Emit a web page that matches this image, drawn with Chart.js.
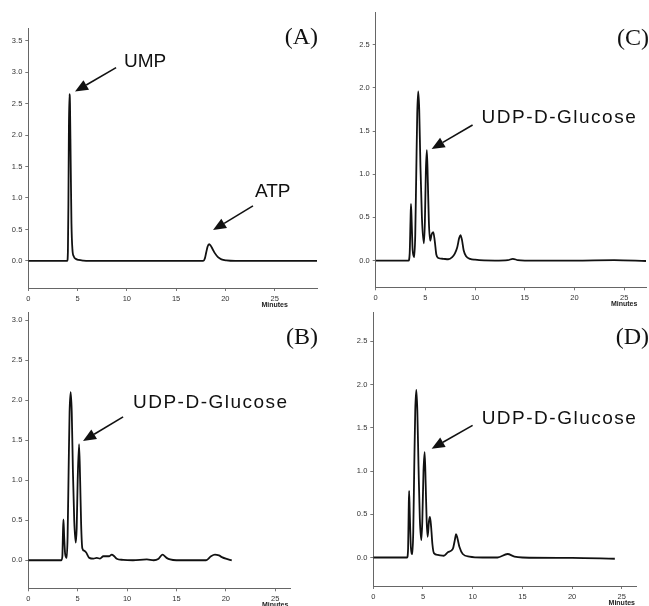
<!DOCTYPE html>
<html>
<head>
<meta charset="utf-8">
<script src="https://cdn.jsdelivr.net/npm/chart.js@4"></script>
<style>
  html, body { margin: 0; padding: 0; background: #fff; }
  body { width: 649px; height: 606px; position: relative; overflow: hidden; }
  canvas { position: absolute; }
</style>
</head>
<body>
<canvas id="cA" width="325" height="312" style="left:0px;top:0px"></canvas>
<canvas id="cC" width="319" height="312" style="left:330px;top:0px"></canvas>
<canvas id="cB" width="325" height="306" style="left:0px;top:300px"></canvas>
<canvas id="cD" width="319" height="306" style="left:330px;top:300px"></canvas>
<script>
// ---------- data (minutes / absorbance) ----------
const timesA  = [0, 3.95, 4.02, 4.07, 4.12, 4.17, 4.23, 4.3, 4.38, 4.48, 4.62, 4.8, 5.1, 5.6, 7, 10, 15, 17.75, 17.92, 18.05, 18.2, 18.35, 18.5, 18.7, 18.95, 19.25, 19.6, 20.1, 21, 25, 29.3];
const signalA = [0, 0, 0.15, 0.9, 2.1, 2.65, 2.5, 1.6, 0.6, 0.18, 0.07, 0.035, 0.015, 0.005, 0, 0, 0, 0, 0.04, 0.13, 0.23, 0.265, 0.245, 0.19, 0.12, 0.06, 0.025, 0.008, 0, 0, 0];

const timesB  = [0, 3.35, 3.45, 3.51, 3.56, 3.63, 3.73, 3.89, 3.98, 4.08, 4.18, 4.29, 4.4, 4.52, 4.65, 4.8, 4.9, 5.0, 5.14, 5.25, 5.35, 5.47, 5.65, 5.84, 6.18, 6.6, 6.93, 7.26, 7.6, 7.94, 8.2, 8.45, 8.7, 8.95, 9.6, 10.6, 12, 12.7, 13.2, 13.58, 14.0, 14.36, 15, 18.0, 18.5, 18.9, 19.3, 19.6, 20.0, 20.6];
const signalB = [0, 0, 0.05, 0.35, 0.51, 0.3, 0.08, 0.03, 0.3, 1.1, 1.85, 2.1, 1.85, 1.1, 0.5, 0.22, 0.4, 1.0, 1.45, 1.0, 0.45, 0.15, 0.12, 0.1, 0.03, 0.02, 0.03, 0.02, 0.05, 0.05, 0.05, 0.07, 0.05, 0.02, 0.005, 0, 0.01, 0, 0.02, 0.07, 0.03, 0.01, 0, 0, 0.05, 0.07, 0.06, 0.04, 0.02, 0.0];

const timesC  = [0, 3.3, 3.42, 3.5, 3.55, 3.62, 3.72, 3.88, 3.98, 4.08, 4.18, 4.28, 4.38, 4.5, 4.65, 4.85, 4.95, 5.05, 5.15, 5.25, 5.35, 5.48, 5.62, 5.79, 5.95, 6.1, 6.3, 6.8, 7.3, 7.7, 7.96, 8.2, 8.4, 8.53, 8.68, 8.85, 9.1, 9.5, 10, 12, 13.3, 13.8, 14.3, 15, 20, 24, 27.2];
const signalC = [0, 0, 0.08, 0.45, 0.655, 0.45, 0.12, 0.04, 0.3, 1.0, 1.7, 1.96, 1.75, 1.1, 0.5, 0.2, 0.45, 1.05, 1.28, 0.9, 0.45, 0.23, 0.3, 0.33, 0.22, 0.07, 0.03, 0.02, 0.015, 0.04, 0.08, 0.15, 0.26, 0.295, 0.24, 0.12, 0.05, 0.02, 0.01, 0.0, 0.005, 0.02, 0.005, 0, 0, 0.005, -0.005];

const timesD  = [0, 3.4, 3.5, 3.56, 3.6, 3.66, 3.78, 3.93, 4.02, 4.12, 4.22, 4.33, 4.43, 4.55, 4.68, 4.83, 4.93, 5.05, 5.17, 5.27, 5.37, 5.47, 5.6, 5.7, 5.82, 5.95, 6.1, 6.5, 7.1, 7.5, 8.0, 8.2, 8.33, 8.47, 8.67, 9.0, 9.67, 11, 12.5, 13.5, 14.2, 15, 20, 24.3];
const signalD = [0, 0, 0.1, 0.55, 0.77, 0.55, 0.12, 0.04, 0.3, 1.05, 1.7, 1.94, 1.7, 1.05, 0.45, 0.2, 0.42, 1.0, 1.22, 0.85, 0.42, 0.24, 0.42, 0.47, 0.35, 0.15, 0.05, 0.03, 0.02, 0.06, 0.1, 0.2, 0.27, 0.22, 0.12, 0.04, 0.01, 0.0, 0.0, 0.04, 0.01, 0, -0.005, -0.015];

const xTickStep = 5;
const yTickStep = 0.5;
const xAxisTitle = 'Minutes';

// ---------- drawing helpers ----------
const notesPlugin = {
  id: 'notes',
  afterDraw(chart, args, o) {
    const { ctx, chartArea, scales: { x, y } } = chart;
    ctx.save();
    ctx.fillStyle = '#111';
    ctx.strokeStyle = '#111';
    // panel letter
    ctx.font = '24px "Liberation Serif"';
    ctx.textAlign = 'right';
    ctx.textBaseline = 'middle';
    ctx.fillText(o.panel, chart.width - o.panelInset, o.panelY);
    // axis title
    ctx.font = 'bold 7px "Liberation Sans"';
    ctx.textAlign = 'center';
    ctx.fillStyle = '#222';
    ctx.fillText(xAxisTitle, x.getPixelForValue(25), chartArea.bottom + 17);
    // annotations
    ctx.fillStyle = '#111';
    for (const n of o.items) {
      ctx.font = '19px "Liberation Sans"';
      ctx.letterSpacing = (n.spacing || 0) + 'px';
      ctx.textAlign = 'left';
      ctx.textBaseline = 'middle';
      ctx.fillText(n.text, x.getPixelForValue(n.at[0]), y.getPixelForValue(n.at[1]));
      ctx.letterSpacing = '0px';
      const x1 = x.getPixelForValue(n.from[0]), y1 = y.getPixelForValue(n.from[1]);
      const x2 = x.getPixelForValue(n.to[0]),   y2 = y.getPixelForValue(n.to[1]);
      const ang = Math.atan2(y2 - y1, x2 - x1);
      const hl = 13, hw = 5.5;
      const bx = x2 - hl * Math.cos(ang), by = y2 - hl * Math.sin(ang);
      ctx.lineWidth = 1.6;
      ctx.beginPath(); ctx.moveTo(x1, y1); ctx.lineTo(bx, by); ctx.stroke();
      ctx.beginPath();
      ctx.moveTo(x2, y2);
      ctx.lineTo(bx + hw * Math.sin(ang), by - hw * Math.cos(ang));
      ctx.lineTo(bx - hw * Math.sin(ang), by + hw * Math.cos(ang));
      ctx.closePath(); ctx.fill();
    }
    ctx.restore();
  }
};

function makeChart(id, times, signal, cfg) {
  const pts = times.map((t, i) => ({ x: t, y: signal[i] }));
  return new Chart(document.getElementById(id), {
    type: 'line',
    data: { datasets: [{ data: pts, borderColor: '#111', borderWidth: 1.8, pointRadius: 0,
      cubicInterpolationMode: 'monotone', fill: false }] },
    plugins: [notesPlugin],
    options: {
      responsive: false, animation: false,
      layout: { padding: { top: cfg.top, right: cfg.right, left: 0, bottom: 0 } },
      plugins: { legend: { display: false }, tooltip: { enabled: false },
        notes: { panel: cfg.panel, panelInset: cfg.panelInset, panelY: cfg.panelY, items: cfg.items } },
      scales: {
        x: {
          type: 'linear', min: 0, max: cfg.xMax,
          afterFit: s => { s.height = cfg.xH; },
          grid: { display: true, drawOnChartArea: false, drawTicks: true, tickLength: 3, color: '#777' },
          border: { display: true, color: '#666', width: 1 },
          ticks: { stepSize: xTickStep, includeBounds: false, autoSkip: false, maxRotation: 0,
            padding: 3, color: '#333', font: { family: '"Liberation Sans"', size: 7.5 },
            callback: v => String(v) }
        },
        y: {
          min: cfg.yMin, max: cfg.yMax,
          afterFit: s => { s.width = cfg.yW; },
          grid: { display: true, drawOnChartArea: false, drawTicks: true, tickLength: 3, color: '#777' },
          border: { display: true, color: '#666', width: 1 },
          ticks: { stepSize: yTickStep, includeBounds: false, autoSkip: false,
            padding: 3, color: '#333', font: { family: '"Liberation Sans"', size: 7.5 },
            callback: v => v.toFixed(1) }
        }
      }
    }
  });
}

makeChart('cA', timesA, signalA, {
  panel: '(A)', panelInset: 7, panelY: 38,
  top: 28, right: 8, yW: 28.3, xH: 24, xMax: 29.3, yMin: -0.43, yMax: 3.7,
  items: [
    { text: 'UMP', at: [9.72, 3.16], from: [8.91, 3.07], to: [4.74, 2.69] },
    { text: 'ATP', at: [23.0, 1.10], from: [22.8, 0.874], to: [18.75, 0.49] }
  ]
});
makeChart('cC', timesC, signalC, {
  panel: '(C)', panelInset: 0, panelY: 39,
  top: 12, right: 3, yW: 45.7, xH: 24.7, xMax: 27.2, yMin: -0.31, yMax: 2.88,
  items: [
    { text: 'UDP-D-Glucose', spacing: 1.5, at: [10.65, 1.653], from: [9.75, 1.571], to: [5.63, 1.293] }
  ]
});
makeChart('cB', timesB, signalB, {
  panel: '(B)', panelInset: 7, panelY: 38,
  top: 12, right: 35, yW: 28.3, xH: 17.7, xMax: 26.5, yMin: -0.35, yMax: 3.1,
  items: [
    { text: 'UDP-D-Glucose', spacing: 1.5, at: [10.6, 1.966], from: [9.6, 1.79], to: [5.54, 1.49] }
  ]
});
makeChart('cD', timesD, signalD, {
  panel: '(D)', panelInset: 0, panelY: 38,
  top: 12, right: 12.3, yW: 43.3, xH: 20, xMax: 26.5, yMin: -0.33, yMax: 2.84,
  items: [
    { text: 'UDP-D-Glucose', spacing: 1.5, at: [10.9, 1.605], from: [9.99, 1.528], to: [5.87, 1.258] }
  ]
});
</script>
</body>
</html>
